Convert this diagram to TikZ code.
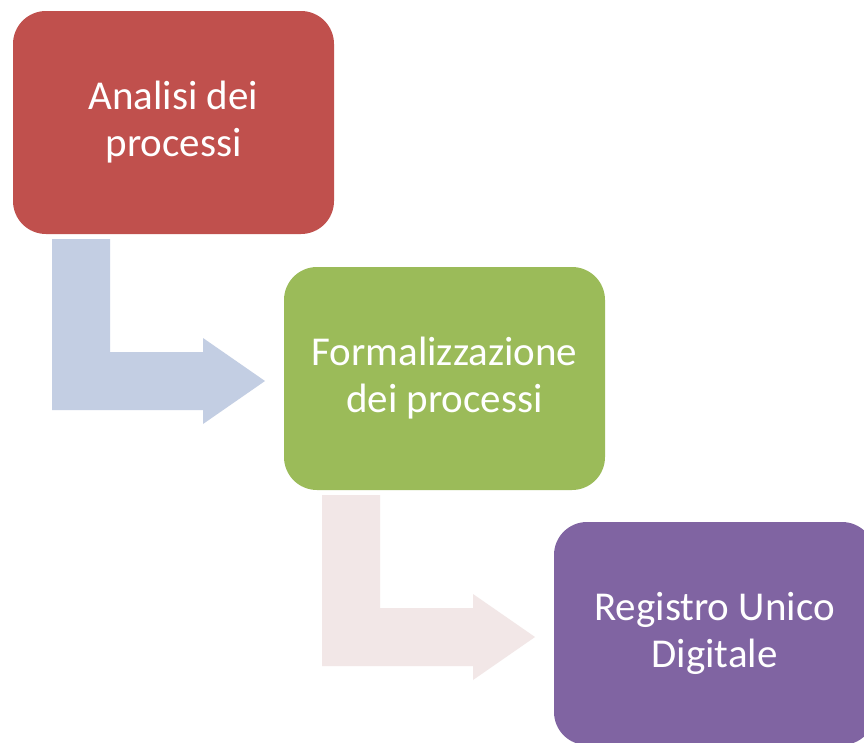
\documentclass[tikz,border=0pt]{standalone}
\usepackage{fontspec}
\setmainfont{Carlito}
\definecolor{cred}{HTML}{C0504D}
\definecolor{cgreen}{HTML}{9BBB59}
\definecolor{cpurple}{HTML}{8064A2}
\definecolor{carrowA}{HTML}{C3CEE3}
\definecolor{carrowB}{HTML}{F2E7E7}
\begin{document}
\begin{tikzpicture}[x=1pt,y=-1pt,
  stepbox/.style={rounded corners=33pt,minimum width=321pt,minimum height=223pt,
    align=center,text=white,font=\fontsize{41}{47}\selectfont,inner sep=0pt}]
\useasboundingbox (0,0) rectangle (864,742);
\clip (0,0) rectangle (864,742);
\fill[white] (0,0) rectangle (864,742);
% bent arrows
\fill[carrowA] (52,239) -- (110,239) -- (110,352) -- (203,352) -- (203,338) -- (265,381)
  -- (203,424) -- (203,410) -- (52,410) -- cycle;
\fill[carrowB] (322,495) -- (380,495) -- (380,608) -- (473,608) -- (473,594) -- (535,637)
  -- (473,680) -- (473,666) -- (322,666) -- cycle;
% boxes
\node[stepbox,fill=cred] (a) at (173.5,122.5) {Analisi dei\\processi};
\node[stepbox,fill=cgreen] (b) at (444.5,378.5) {Formalizzazione\\dei processi};
\node[stepbox,fill=cpurple] (c) at (714.5,633.5) {Registro Unico\\Digitale};
\end{tikzpicture}
\end{document}
